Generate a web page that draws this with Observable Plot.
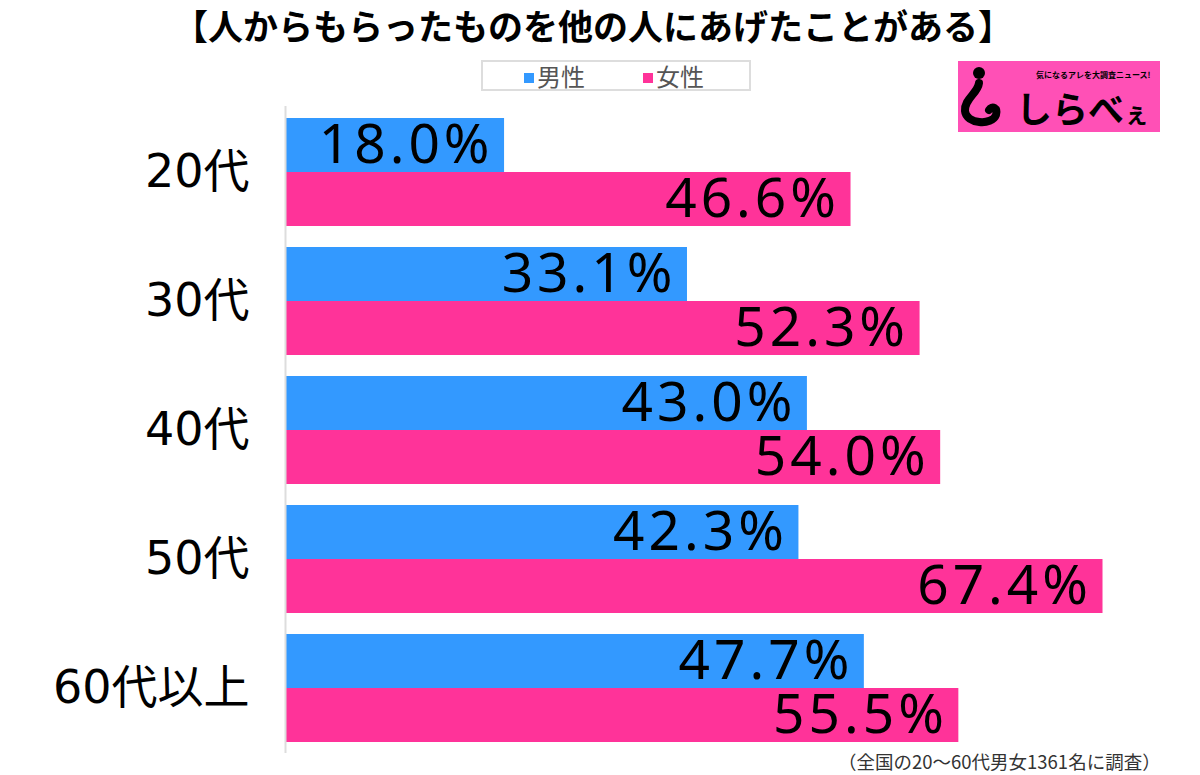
<!DOCTYPE html>
<html>
<head>
<meta charset="utf-8">
<script src="https://cdn.jsdelivr.net/npm/d3@7"></script>
<script src="https://cdn.jsdelivr.net/npm/@observablehq/plot@0.6"></script>
<style>
  html, body { margin: 0; padding: 0; background: #fff; }
  #page { position: relative; width: 1200px; height: 775px; overflow: hidden; font-family: "Noto Sans CJK JP", "Noto Sans", sans-serif; }
  #header { position: relative; width: 1200px; height: 100px; }
  #title { position: absolute; left: 0; top: 6px; width: 1186px; text-align: center; font-size: 35px; font-weight: 700; line-height: 38px; color: #000; white-space: nowrap; }
  #legend { position: absolute; left: 481px; top: 60px; width: 266px; height: 27px; border: 2px solid #ddd; }
  .li { position: absolute; top: 0; font-size: 24px; line-height: 27px; color: #555; white-space: nowrap; }
  .sw { display: inline-block; width: 10px; height: 10px; margin-right: 3px; vertical-align: 3px; }
  #logo { position: absolute; left: 958px; top: 61px; width: 202px; height: 71px; background: #ff50b6; z-index: 10; }
  #chart { position: relative; height: 655px; }
  #chart g[aria-label="text"] text { letter-spacing: 4px; }
  #caption { position: absolute; left: 838px; top: 750px; height: 22px; font-size: 18.5px; line-height: 22px; color: #333; white-space: nowrap; }
</style>
</head>
<body>
<div id="page">
  <div id="header">
    <div id="title"></div>
    <div id="legend"></div>
    <div id="logo">
      <svg width="202" height="71" viewBox="0 0 202 71">
        <circle cx="21" cy="12" r="6" fill="#000"/>
        <path d="M21 22 C 20 32, 6 38, 7 50 C 8 63, 34 65, 38 54 C 40 47, 34 44, 31 49" fill="none" stroke="#000" stroke-width="8" stroke-linecap="round"/>
        <text x="78" y="17" font-size="8" font-weight="700" fill="#000" font-family="Noto Sans CJK JP">気になるアレを大調査ニュース!</text>
        <text x="58" y="62" font-size="36" font-weight="700" fill="#000" font-family="Noto Sans CJK JP">しらべ<tspan font-size="25">ぇ</tspan></text>
      </svg>
    </div>
  </div>
  <div id="chart"></div>
  <div id="caption"></div>
</div>
<script>
const titleText = "【人からもらったものを他の人にあげたことがある】";
const captionText = "（全国の20～60代男女1361名に調査）";
const ages = ["20代", "30代", "40代", "50代", "60代以上"];
const seriesNames = ["男性", "女性"];
const seriesColors = ["#3399ff", "#ff3399"];
const male = [18.0, 33.1, 43.0, 42.3, 47.7];
const female = [46.6, 52.3, 54.0, 67.4, 55.5];

document.getElementById("title").textContent = titleText;
document.getElementById("caption").textContent = captionText;

const legend = document.getElementById("legend");
const legendX = [41, 160];
seriesNames.forEach((n, i) => {
  const d = document.createElement("div");
  d.className = "li";
  d.style.left = legendX[i] + "px";
  d.innerHTML = `<span class="sw" style="background:${seriesColors[i]}"></span>${n}`;
  legend.appendChild(d);
});

const maleData = ages.map((a, i) => ({age: a, value: male[i]}));
const femaleData = ages.map((a, i) => ({age: a, value: female[i]}));
const fmt = v => v.toFixed(1) + "%";

const chart = Plot.plot({
  width: 1200,
  height: 655,
  marginTop: 6,
  marginBottom: 2,
  marginLeft: 286,
  marginRight: 66,
  style: {background: "#fff", color: "#000"},
  x: {domain: [0, 70], axis: null},
  y: {domain: ages, paddingInner: 0.166, paddingOuter: 0.081, label: null},
  marks: [
    Plot.axisY({tickSize: 0, tickPadding: 37, fontSize: 46, fontFamily: "DejaVu Sans, Noto Sans CJK JP", fill: "#000", label: null}),
    Plot.barX(maleData, {x1: 0, x2: "value", y: "age", fill: seriesColors[0], insetBottom: 54}),
    Plot.barX(femaleData, {x1: 0, x2: "value", y: "age", fill: seriesColors[1], insetTop: 54}),
    Plot.ruleX([0], {stroke: "#dddddd", strokeWidth: 2, dx: -1}),
    Plot.text(maleData, {x: "value", y: "age", text: d => fmt(d.value), textAnchor: "end", dx: -11, dy: -27, fontSize: 55, fontFamily: "Noto Sans", fill: "#000"}),
    Plot.text(femaleData, {x: "value", y: "age", text: d => fmt(d.value), textAnchor: "end", dx: -11, dy: 27, fontSize: 55, fontFamily: "Noto Sans", fill: "#000"})
  ]
});
document.getElementById("chart").appendChild(chart);
</script>
</body>
</html>
